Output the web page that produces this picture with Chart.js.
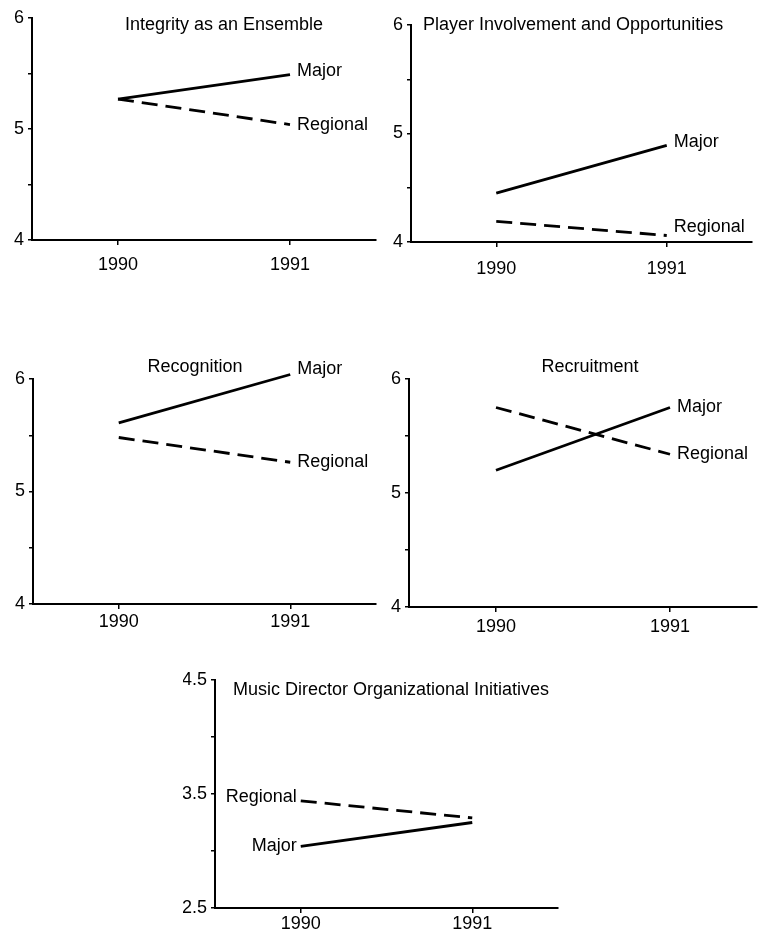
<!DOCTYPE html>
<html>
<head>
<meta charset="utf-8">
<script src="https://cdn.jsdelivr.net/npm/chart.js@4"></script>
<style>
  html, body { margin: 0; padding: 0; background: #fff; overflow: hidden; }
  body { width: 775px; height: 935px; position: relative; }
  canvas { position: absolute; }
</style>
</head>
<body>
<script>
// data
const years = ['1990', '1991'];

const integrityMajor = [5.27, 5.49];
const integrityRegional = [5.27, 5.04];
const playerMajor = [4.45, 4.89];
const playerRegional = [4.19, 4.06];
const recognitionMajor = [5.61, 6.04];
const recognitionRegional = [5.48, 5.26];
const recruitMajor = [5.20, 5.75];
const recruitRegional = [5.75, 5.34];
const musicMajor = [3.04, 3.25];
const musicRegional = [3.44, 3.29];

const scoreTicks = ['4', '', '5', '', '6'];
const musicTicks = ['2.5', '', '3.5', '', '4.5'];

const FONT = '"Liberation Sans", Arial, Helvetica, sans-serif';
const INK = '#000';

// plot area of each panel, in page pixels; xgap = space under the axis before the year labels
const panels = [
  { title: 'Integrity as an Ensemble', area: [32, 18, 376, 240], tx: 192, ty: 7, talign: 'center', xgap: 14,
    major: integrityMajor, regional: integrityRegional, min: 4, max: 6, ticks: scoreTicks,
    majorLab: { i: 1, side: 'right', dy: -4 }, regLab: { i: 1, side: 'right', dy: 0 } },
  { title: 'Player Involvement and Opportunities', area: [411, 25, 752, 242], tx: 12, ty: 0, talign: 'left', xgap: 16,
    major: playerMajor, regional: playerRegional, min: 4, max: 6, ticks: scoreTicks,
    majorLab: { i: 1, side: 'right', dy: -3 }, regLab: { i: 1, side: 'right', dy: -8 } },
  { title: 'Recognition', area: [33, 379, 376, 604], tx: 162, ty: -12, talign: 'center', xgap: 7,
    major: recognitionMajor, regional: recognitionRegional, min: 4, max: 6, ticks: scoreTicks,
    majorLab: { i: 1, side: 'right', dy: -5 }, regLab: { i: 1, side: 'right', dy: 0 } },
  { title: 'Recruitment', area: [409, 379, 757, 607], tx: 181, ty: -12, talign: 'center', xgap: 9,
    major: recruitMajor, regional: recruitRegional, min: 4, max: 6, ticks: scoreTicks,
    majorLab: { i: 1, side: 'right', dy: 0 }, regLab: { i: 1, side: 'right', dy: 0 } },
  { title: 'Music Director Organizational Initiatives', area: [215, 680, 558, 908], tx: 18, ty: 10, talign: 'left', xgap: 5,
    major: musicMajor, regional: musicRegional, min: 2.5, max: 4.5, ticks: musicTicks,
    majorLab: { i: 0, side: 'left', dy: 0 }, regLab: { i: 0, side: 'left', dy: -4 } }
];

// titles and line names written inside the panel
const panelText = {
  id: 'panelText',
  afterDatasetsDraw(chart, args, opts) {
    const ctx = chart.ctx;
    const a = chart.chartArea;
    ctx.save();
    ctx.fillStyle = INK;
    ctx.font = '18px ' + FONT;
    ctx.textBaseline = 'middle';
    ctx.textAlign = opts.talign;
    ctx.fillText(opts.title, a.left + opts.tx, a.top + opts.ty);
    chart.data.datasets.forEach((ds, k) => {
      const lab = ds.tag;
      const pt = chart.getDatasetMeta(k).data[lab.i];
      if (lab.side === 'right') {
        ctx.textAlign = 'left';
        ctx.fillText(ds.label, pt.x + 7, pt.y + lab.dy);
      } else {
        ctx.textAlign = 'right';
        ctx.fillText(ds.label, pt.x - 4, pt.y + lab.dy);
      }
    });
    ctx.restore();
  }
};

panels.forEach(p => {
  const [l, t, r, b] = p.area;
  const cv = document.createElement('canvas');
  const x = l - 32, y = t - 25;
  const w = r - x + 20, h = b - y + 36;
  cv.width = w; cv.height = h;
  cv.style.left = x + 'px'; cv.style.top = y + 'px';
  cv.style.width = w + 'px'; cv.style.height = h + 'px';
  document.body.appendChild(cv);

  new Chart(cv, {
    type: 'line',
    data: {
      labels: years,
      datasets: [
        { label: 'Major', data: p.major, borderColor: INK, borderWidth: 2.8, tag: p.majorLab },
        { label: 'Regional', data: p.regional, borderColor: INK, borderWidth: 2.8, borderDash: [16, 8], tag: p.regLab }
      ]
    },
    options: {
      responsive: false,
      animation: false,
      devicePixelRatio: 1,
      layout: { padding: { top: 25, right: 20, left: 0, bottom: 0 } },
      elements: { point: { radius: 0 }, line: { tension: 0 } },
      datasets: { line: { clip: false } },
      plugins: {
        legend: { display: false },
        tooltip: { enabled: false },
        panelText: { title: p.title, tx: p.tx, ty: p.ty, talign: p.talign }
      },
      scales: {
        x: {
          type: 'category',
          offset: true,
          afterFit: s => { s.height = 36; },
          grid: { offset: false, drawOnChartArea: false, drawTicks: true, tickLength: 5, color: INK, lineWidth: 1.5 },
          border: { color: INK, width: 2 },
          ticks: { color: INK, padding: p.xgap - 5, font: { family: FONT, size: 18 } }
        },
        y: {
          min: p.min, max: p.max,
          afterFit: s => { s.width = 32; },
          afterBuildTicks: s => { s.ticks = [0, 1, 2, 3, 4].map(i => ({ value: p.min + i * 0.5 })); },
          grid: { drawOnChartArea: false, drawTicks: true, tickLength: 4, color: INK, lineWidth: 1.5 },
          border: { color: INK, width: 2 },
          ticks: {
            color: INK, padding: 4, font: { family: FONT, size: 18 },
            callback: (v, i) => p.ticks[i]
          }
        }
      }
    },
    plugins: [panelText]
  });
});
</script>
</body>
</html>
